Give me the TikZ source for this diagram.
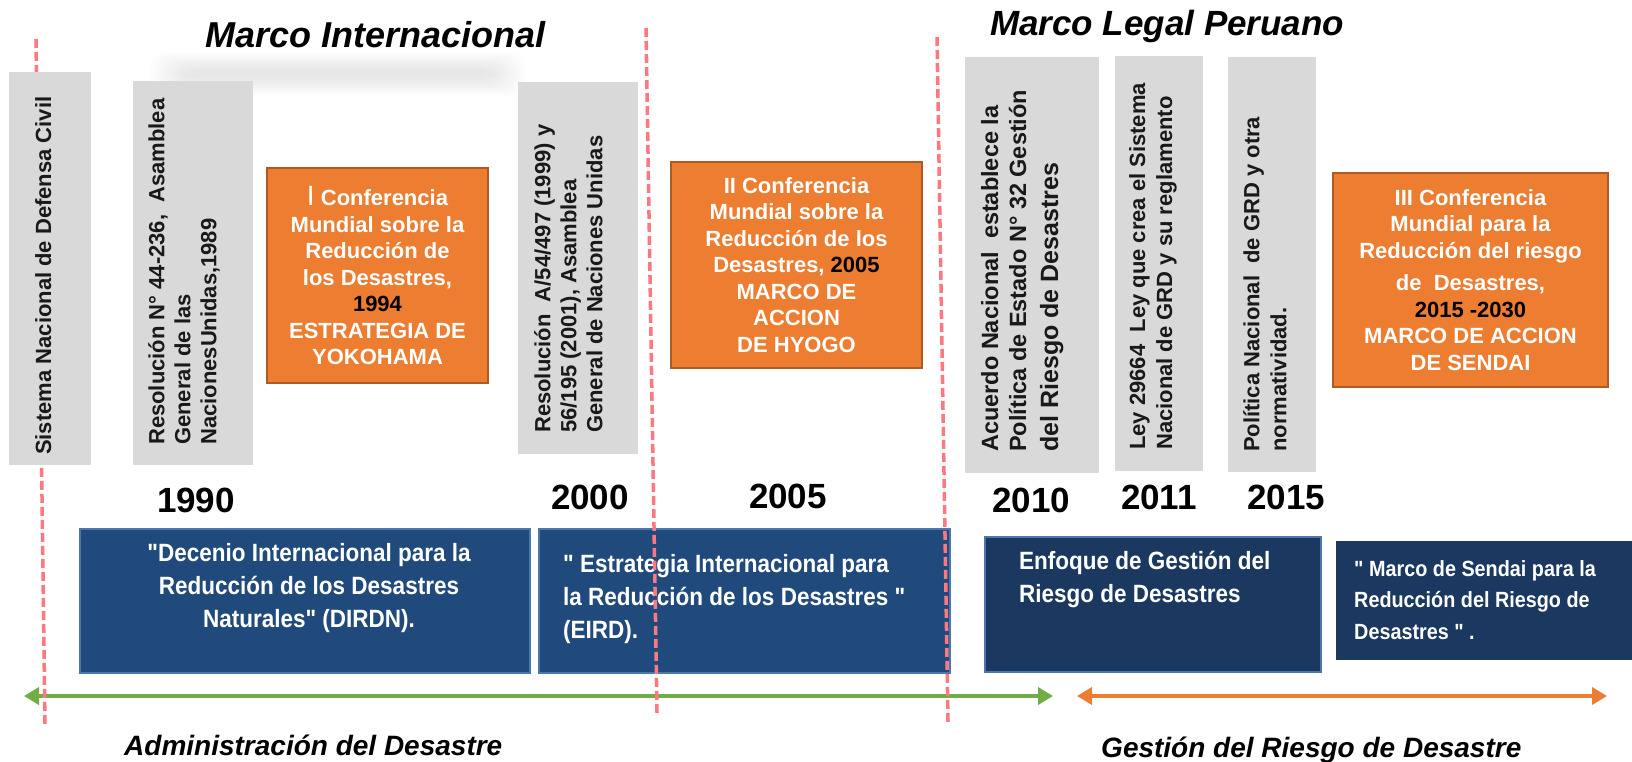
\documentclass[tikz,border=0pt]{standalone}
\usepackage{fontspec}
\setmainfont{Liberation Sans}
\newfontfamily\narrowfont[FakeStretch=0.9]{Liberation Sans}
\usepackage{xcolor}
\usetikzlibrary{positioning,arrows.meta}

\definecolor{lawgray}{HTML}{D9D9D9}
\definecolor{conforange}{HTML}{ED7D31}
\definecolor{confedge}{HTML}{AE5A21}
\definecolor{decblue}{HTML}{214A7C}
\definecolor{decdark}{HTML}{1B3860}
\definecolor{decedge}{HTML}{4A78AC}
\definecolor{erared}{HTML}{FF7880}
\definecolor{admgreen}{HTML}{70AD47}

\begin{document}
\begin{tikzpicture}[x=1pt, y=-1pt,
  lawbox/.style={fill=lawgray, inner sep=0pt, anchor=north west},
  lawtext/.style={rotate=90, anchor=north west, align=left, inner sep=0pt, text=black!90, font=\bfseries\fontsize{22}{26}\selectfont},
  confbox/.style={fill=conforange, draw=confedge, line width=1.5pt, align=center, inner sep=0pt, text=white, font=\bfseries\fontsize{22}{26.5}\selectfont},
  yearlbl/.style={inner sep=0pt, font=\bfseries\fontsize{35}{40}\selectfont},
  decbox/.style={fill=decblue, draw=decedge, line width=2pt, inner sep=0pt, anchor=north west},
  dectext/.style={inner sep=0pt, text=white, font=\narrowfont\bfseries\fontsize{25}{33}\selectfont},
  eraline/.style={erared, line width=3.5pt, dash pattern=on 9pt off 4pt},
  eraarrow/.style={line width=4pt, {Triangle[length=15pt,width=17pt]}-{Triangle[length=15pt,width=17pt]}},
  eralbl/.style={inner sep=0pt, anchor=base west, font=\bfseries\itshape\fontsize{28}{32}\selectfont},
  titlelbl/.style={inner sep=0pt, anchor=base west, font=\bfseries\itshape\fontsize{36}{40}\selectfont}]

\useasboundingbox (0,0) rectangle (1632,761);

% soft shadow under the first title
\foreach \k in {0,...,11}
  \fill[black, opacity=0.009, rounded corners=16pt] (150+3*\k,52+1.6*\k) rectangle (526-3*\k,96-1.6*\k);

\node[titlelbl] (title_int) at (205,47) {Marco Internacional};
\node[titlelbl, font=\bfseries\itshape\fontsize{35}{40}\selectfont] (title_peru) at (990,35) {Marco Legal Peruano};

% blue bands
\node[decbox, minimum width=450pt, minimum height=144pt] (decade_0) at (79,528) {};
\node[decbox, minimum width=411pt, minimum height=144pt] (decade_1) at (538,528) {};
\node[decbox, fill=decdark, minimum width=336pt, minimum height=135pt] (decade_2) at (984,536) {};
\node[decbox, fill=decdark, draw=none, minimum width=300pt, minimum height=119pt] (decade_3) at (1335,540) {};

\node[dectext, align=center, below=15pt of decade_0.north, xshift=4pt] (dec_txt_0)
  {"Decenio Internacional para la\\ Reducción de los Desastres\\ Naturales" (DIRDN).};
\node[dectext, align=left, below right=26pt and 25pt of decade_1.north west] (dec_txt_1)
  {" Estrategia Internacional para\\ la Reducción de los Desastres "\\ (EIRD).};
\node[dectext, align=left, below right=15pt and 35pt of decade_2.north west] (dec_txt_2)
  {Enfoque de Gestión del\\ Riesgo de Desastres};
\node[dectext, align=left, font=\narrowfont\bfseries\fontsize{22}{31.5}\selectfont, below right=20pt and 19pt of decade_3.north west] (dec_txt_3)
  {" Marco de Sendai para la\\ Reducción del Riesgo de\\ Desastres " .};

% periods
\coordinate (adm_l) at (24,696);
\coordinate (adm_r) at (1053,696);
\coordinate (grd_l) at (1077,696);
\coordinate (grd_r) at (1607,696);
\draw[eraarrow, admgreen] (adm_l) -- (adm_r);
\draw[eraarrow, conforange] (grd_l) -- (grd_r);

\coordinate (cut_0a) at (36,39);   \coordinate (cut_0b) at (45,725);
\coordinate (cut_1a) at (646,28);  \coordinate (cut_1b) at (657,713);
\coordinate (cut_2a) at (937,37);  \coordinate (cut_2b) at (948,722);
\draw[eraline] (cut_0a) -- (cut_0b);
\draw[eraline] (cut_1a) -- (cut_1b);
\draw[eraline] (cut_2a) -- (cut_2b);

% norms
\node[lawbox, minimum width=82pt, minimum height=393pt] (law_0) at (9,72) {};
\node[lawbox, minimum width=120pt, minimum height=384pt] (law_1) at (133,81) {};
\node[lawbox, minimum width=120pt, minimum height=372pt] (law_2) at (518,82) {};
\node[lawbox, minimum width=134pt, minimum height=416pt] (law_3) at (965,57) {};
\node[lawbox, minimum width=88pt, minimum height=415pt] (law_4) at (1115,56) {};
\node[lawbox, minimum width=88pt, minimum height=415pt] (law_5) at (1228,57) {};

\node[lawtext] (law_txt_0) at (35,455) {Sistema Nacional de Defensa Civil};
\node[lawtext] (law_txt_1) at (148,445) {Resolución N° 44-236,\ \ Asamblea\\ General de las\\ NacionesUnidas,1989};
\node[lawtext] (law_txt_2) at (534,433) {Resolución\ \ A/54/497 (1999) y\\ 56/195 (2001), Asamblea\\ General de Naciones Unidas};
\node[lawtext, font=\bfseries\fontsize{23.5}{28}\selectfont] (law_txt_3) at (981,452)
  {Acuerdo Nacional\ \ establece la\\ Política de Estado N° 32 Gestión\\[4pt] {\fontsize{25}{28}\selectfont del Riesgo de Desastres}};
\node[lawtext, font=\bfseries\fontsize{22}{27}\selectfont] (law_txt_4) at (1129,450) {Ley 29664\ \ Ley que crea el Sistema\\ Nacional de GRD y su reglamento};
\node[lawtext, font=\bfseries\fontsize{22}{27}\selectfont] (law_txt_5) at (1243,452) {Política Nacional\ \ de GRD y otra\\ normatividad.};

% conferences
\node[confbox, minimum width=221pt, minimum height=215pt] (conf_0) at (377.5,275.5)
  {{\mdseries\fontsize{28}{26.5}\selectfont I} Conferencia\\ Mundial sobre la\\ Reducción de\\ los Desastres,\\ \textcolor{black}{1994}\\ ESTRATEGIA DE\\ YOKOHAMA};
\node[confbox, minimum width=251pt, minimum height=206pt] (conf_1) at (796.5,265)
  {II Conferencia\\ Mundial sobre la\\ Reducción de los\\ Desastres, \textcolor{black}{2005}\\ MARCO DE\\ ACCION\\ DE HYOGO};
\node[confbox, minimum width=275pt, minimum height=214pt] (conf_2) at (1470.5,280)
  {III Conferencia\\ Mundial para la\\ Reducción del riesgo\\[6pt] de\ \ Desastres,\\ \textcolor{black}{2015 -2030}\\ MARCO DE ACCION\\ DE SENDAI};

% years
\node[yearlbl] (year_0) at (196,500) {1990};
\node[yearlbl] (year_1) at (590,497) {2000};
\node[yearlbl] (year_2) at (788,496) {2005};
\node[yearlbl] (year_3) at (1031,500) {2010};
\node[yearlbl] (year_4) at (1159,497) {2011};
\node[yearlbl] (year_5) at (1286,497) {2015};

\node[eralbl] (era_adm) at (124,755) {Administración del Desastre};
\node[eralbl] (era_grd) at (1101,757) {Gestión del Riesgo de Desastre};

\end{tikzpicture}
\end{document}
